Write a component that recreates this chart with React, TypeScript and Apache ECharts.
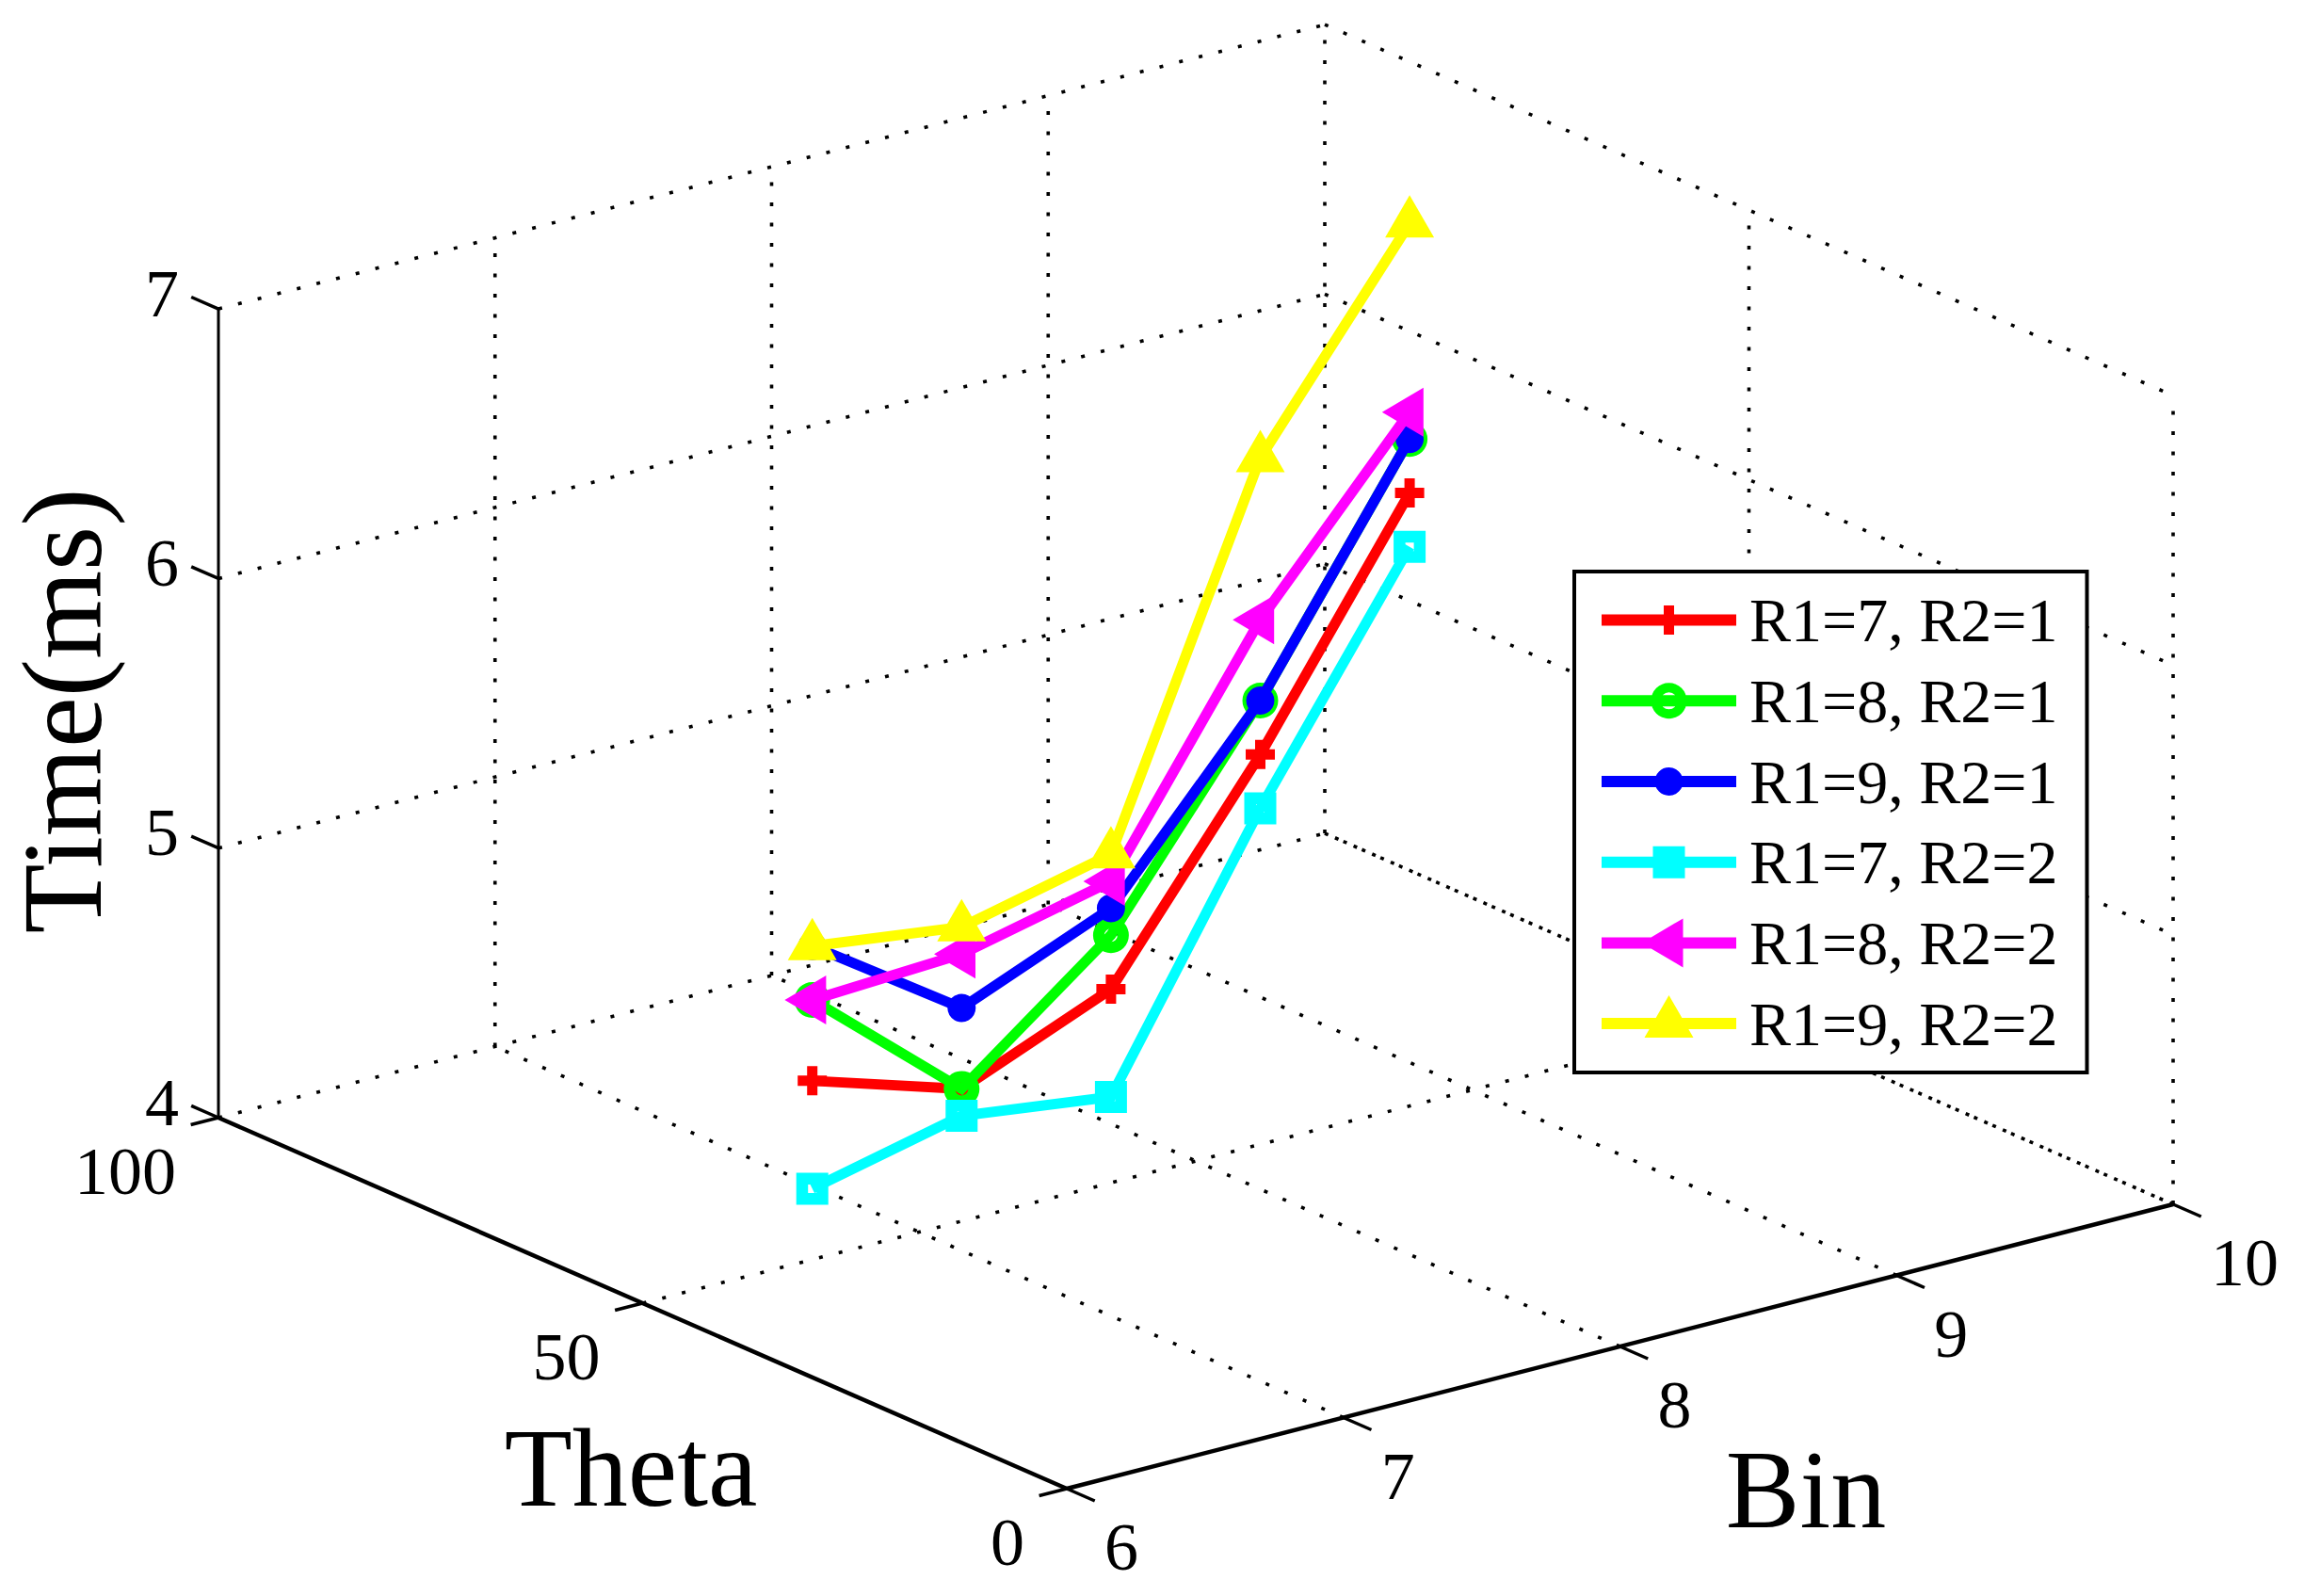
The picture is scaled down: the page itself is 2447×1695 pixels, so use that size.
import React, { useEffect, useRef } from "react";
import * as echarts from "echarts";

const WIDTH = 2447;
const HEIGHT = 1695;
const FONT = "'Liberation Serif', 'Times New Roman', serif";

// Data
const binValues = [6, 7, 8, 9, 10];
const thetaValues = [30, 45, 60, 75, 90];
const r7r1 = [5.1, 4.6, 4.5, 4.9, 5.4];
const r8r1 = [5.4, 4.6, 4.7, 5.1, 5.6];
const r9r1 = [5.6, 4.9, 4.8, 5.1, 5.6];
const r7r2 = [4.7, 4.5, 4.1, 4.7, 5.2];
const r8r2 = [5.4, 5.1, 4.9, 5.4, 5.7];
const r9r2 = [5.6, 5.2, 5.0, 6.0, 6.4];

const binTicks = [6, 7, 8, 9, 10];
const thetaTicks = [0, 50, 100];
const timeTicks = [4, 5, 6, 7];

// Orthographic 3-D view of the MATLAB box (Bin, Theta, Time) -> page scale
const ORIGIN = [1133, 1581];
const PER_BIN = [293.75, -75.5];
const PER_THETA = [-9.01, -3.94];
const PER_TIME = -286.3;

type P3 = [number, number, number];
const project = ([b, t, z]: P3): [number, number] => [
  ORIGIN[0] + (b - 6) * PER_BIN[0] + t * PER_THETA[0],
  ORIGIN[1] + (b - 6) * PER_BIN[1] + t * PER_THETA[1] + (z - 4) * PER_TIME,
];

// Marker shapes
const plusPath = "M10 0H21V10H31V21H21V31H10V21H0V10H10Z";
const ringPath = "M19 0A19 19 0 1 1 19 38A19 19 0 1 1 19 0ZM19 12A7 7 0 1 0 19 26A7 7 0 1 0 19 12Z";
const squarePath = "M0 0H34V34H0ZM12.5 12.5V21.5H21.5V12.5Z";
const leftTriPath = "M0 26L44 0V52Z";

// Legend icons, drawn on a 152 x 66 box with the line along its middle
const ICON_BOX = "M0 0L0 0M152 66L152 66";
const ICON_LINE = "M0 27H143V39H0Z";
const icons = [
  `${ICON_BOX}${ICON_LINE}M66 17.5H77V28H87V39H77V48.5H66V39H56V28H66Z`,
  `${ICON_BOX}${ICON_LINE}M71.5 14A19 19 0 1 1 71.5 52A19 19 0 1 1 71.5 14ZM71.5 24A9 9 0 1 0 71.5 42A9 9 0 1 0 71.5 24Z`,
  `${ICON_BOX}${ICON_LINE}M71.5 18A15 15 0 1 1 71.5 48A15 15 0 1 1 71.5 18Z`,
  `${ICON_BOX}${ICON_LINE}M54.5 16H88.5V50H54.5Z`,
  `${ICON_BOX}${ICON_LINE}M42.5 33L86.5 7V59Z`,
  `${ICON_BOX}${ICON_LINE}M71.5 3L97.5 48H45.5Z`,
];

const seriesDefs = [
  { name: "R1=7, R2=1", values: r7r1, color: "#ff0000", symbol: `path://${plusPath}`, size: 31 as any, offset: [0, 0] },
  { name: "R1=8, R2=1", values: r8r1, color: "#00ff00", symbol: `path://${ringPath}`, size: 38 as any, offset: [0, 0] },
  { name: "R1=9, R2=1", values: r9r1, color: "#0000ff", symbol: "circle", size: 30 as any, offset: [0, 0] },
  { name: "R1=7, R2=2", values: r7r2, color: "#00ffff", symbol: `path://${squarePath}`, size: 34 as any, offset: [0, 0] },
  { name: "R1=8, R2=2", values: r8r2, color: "#ff00ff", symbol: `path://${leftTriPath}`, size: [44, 52] as any, offset: [-7.3, 0] },
  { name: "R1=9, R2=2", values: r9r2, color: "#ffff00", symbol: "triangle", size: [52, 45] as any, offset: [0, -7.5] },
];

function segment(a: P3, b: P3, width: number, dashed: boolean, id: string) {
  return {
    type: "line",
    name: id,
    z: 1,
    silent: true,
    clip: false,
    showSymbol: false,
    symbol: "none",
    data: [project(a), project(b)],
    lineStyle: {
      color: "#000",
      width,
      cap: "butt",
      type: dashed ? [4, 17.5] : "solid",
    },
  };
}

function buildFrame() {
  const out: any[] = [];
  const dots = (a: P3, b: P3) => out.push(segment(a, b, 3.6, true, `grid${out.length}`));
  const solid = (a: P3, b: P3, w: number) => out.push(segment(a, b, w, false, `axis${out.length}`));

  // Left wall (Theta = 100)
  timeTicks.forEach((z) => dots([6, 100, z], [10, 100, z]));
  binTicks.slice(1).forEach((b) => dots([b, 100, 4], [b, 100, 7]));
  // Right wall (Bin = 10)
  timeTicks.forEach((z) => dots([10, 100, z], [10, 0, z]));
  thetaTicks.slice(0, 2).forEach((t) => dots([10, t, 4], [10, t, 7]));
  // Floor
  binTicks.slice(1).forEach((b) => dots([b, 0, 4], [b, 100, 4]));
  dots([6, 50, 4], [10, 50, 4]);

  // Axis lines
  solid([6, 100, 4], [6, 100, 7], 3);
  solid([6, 100, 4], [6, 0, 4], 4.5);
  solid([6, 0, 4], [10, 0, 4], 4.5);

  // Tick marks
  timeTicks.forEach((z) => solid([6, 100, z], [6, 103.2, z], 3.5));
  thetaTicks.forEach((t) => solid([6, t, 4], [5.9, t, 4], 3.5));
  binTicks.forEach((b) => solid([b, 0, 4], [b, -3.3, 4], 3.5));
  return out;
}

function tickLabels(items: { text: string; at: P3 }[], align: string, offset: number[]) {
  return {
    type: "scatter",
    name: `labels-${align}-${offset[1]}`,
    z: 3,
    silent: true,
    clip: false,
    symbolSize: 1,
    itemStyle: { color: "rgba(0,0,0,0)", opacity: 1 },
    data: items.map((it) => ({ name: it.text, value: project(it.at) })),
    label: {
      show: true,
      position: "inside",
      formatter: "{b}",
      align,
      verticalAlign: "middle",
      offset,
      opacity: 1,
      fontFamily: FONT,
      fontSize: 72,
      color: "#000",
    },
  };
}

function title(text: string, x: number, y: number, size: number, rotation = 0) {
  return {
    type: "text",
    x,
    y,
    rotation,
    z: 50,
    silent: true,
    style: {
      text,
      fontFamily: FONT,
      fontSize: size,
      fill: "#000",
      align: "center",
      verticalAlign: "middle",
    },
  };
}

export default function App() {
  const ref = useRef<HTMLDivElement>(null);

  useEffect(() => {
    const chart = echarts.init(ref.current!, undefined, { renderer: "svg" });
    const dataSeries = seriesDefs.map((s, i) => ({
      type: "line",
      name: s.name,
      z: 10 + i,
      silent: true,
      clip: false,
      showSymbol: true,
      showAllSymbol: true,
      symbol: s.symbol,
      symbolSize: s.size,
      symbolOffset: s.offset,
      data: s.values.map((v, k) => project([binValues[k], thetaValues[k], v])),
      itemStyle: { color: s.color, borderWidth: 0 },
      lineStyle: { color: s.color, width: 11, join: "miter" },
    }));

    chart.setOption({
      animation: false,
      backgroundColor: "#fff",
      grid: { left: 0, right: 0, top: 0, bottom: 0, containLabel: false },
      xAxis: { type: "value", min: 0, max: WIDTH, show: false },
      yAxis: { type: "value", min: 0, max: HEIGHT, inverse: true, show: false },
      legend: {
        orient: "vertical",
        left: 1672,
        top: 607,
        z: 100,
        selectedMode: false,
        align: "left",
        backgroundColor: "#fff",
        borderColor: "#000",
        borderWidth: 4,
        borderRadius: 0,
        padding: [18.6, 31, 18.9, 29],
        itemWidth: 152,
        itemHeight: 66,
        itemGap: 19.7,
        symbolKeepAspect: false,
        textStyle: { fontFamily: FONT, fontSize: 66, color: "#000", lineHeight: 66 },
        data: seriesDefs.map((s, i) => ({
          name: s.name,
          icon: `path://${icons[i]}`,
          itemStyle: { color: s.color, borderWidth: 0 },
        })),
      },
      graphic: [
        title("Time(ms)", 66, 755, 121, Math.PI / 2),
        title("Theta", 670, 1559, 118),
        title("Bin", 1918, 1582, 118),
      ],
      series: [
        ...buildFrame(),
        tickLabels(timeTicks.map((z) => ({ text: String(z), at: [6, 100, z] as P3 })), "right", [-42, -16.5]),
        tickLabels(thetaTicks.map((t) => ({ text: String(t), at: [6, t, 4] as P3 })), "right", [-45, 56.5]),
        tickLabels(binTicks.map((b) => ({ text: String(b), at: [b, 0, 4] as P3 })), "left", [40, 62]),
        ...dataSeries,
      ],
    });
    return () => chart.dispose();
  }, []);

  return (
    <div
      ref={ref}
      style={{ position: "fixed", left: 0, top: 0, width: WIDTH, height: HEIGHT, background: "#fff" }}
    />
  );
}
